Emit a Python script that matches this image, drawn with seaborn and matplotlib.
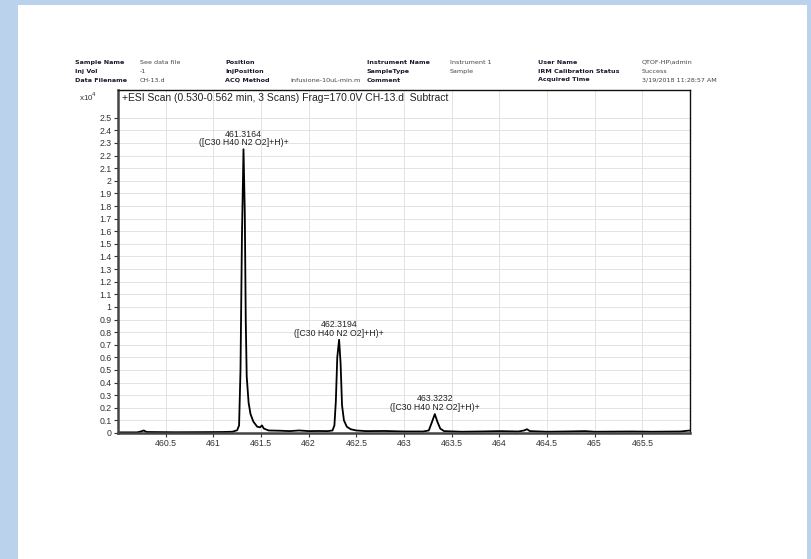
import matplotlib
matplotlib.use("Agg")
import matplotlib.pyplot as plt
from matplotlib.patches import Rectangle
import numpy as np
import seaborn as sns

# profile (m/z, counts x10^4)
mz = [460.00, 460.20, 460.24, 460.27, 460.30, 460.60, 460.90, 461.10, 461.20,
      461.25, 461.27, 461.285, 461.30, 461.3164, 461.33, 461.34, 461.35, 461.37,
      461.39, 461.42, 461.46, 461.49, 461.51, 461.53, 461.58, 461.70, 461.80,
      461.90, 462.00, 462.10, 462.20, 462.25, 462.27, 462.285, 462.30, 462.3194,
      462.335, 462.35, 462.37, 462.40, 462.44, 462.50, 462.60, 462.80, 463.00,
      463.20, 463.26, 463.29, 463.3232, 463.35, 463.38, 463.42, 463.60, 463.80,
      464.00, 464.20, 464.26, 464.29, 464.32, 464.50, 464.70, 464.90, 465.00,
      465.40, 465.60, 465.90, 466.00]
counts = [0.005, 0.005, 0.012, 0.02, 0.008, 0.006, 0.007, 0.008, 0.010,
          0.022, 0.06, 0.5, 1.55, 2.25, 1.75, 0.9, 0.45, 0.24,
          0.15, 0.09, 0.05, 0.045, 0.06, 0.035, 0.02, 0.018, 0.015,
          0.02, 0.015, 0.016, 0.015, 0.02, 0.06, 0.25, 0.6, 0.74,
          0.55, 0.22, 0.10, 0.05, 0.03, 0.02, 0.015, 0.016, 0.012,
          0.012, 0.02, 0.08, 0.15, 0.09, 0.035, 0.015, 0.01, 0.012,
          0.015, 0.012, 0.02, 0.03, 0.015, 0.01, 0.012, 0.015, 0.01,
          0.012, 0.01, 0.012, 0.02]

peak_mz = [461.3164, 462.3194, 463.3232]
peak_counts = [2.25, 0.74, 0.15]
peak_labels = ["461.3164", "462.3194", "463.3232"]
peak_formula = "([C30 H40 N2 O2]+H)+"

x_ticks = [460.5, 461, 461.5, 462, 462.5, 463, 463.5, 464, 464.5, 465, 465.5]
y_ticks = [round(0.1 * i, 1) for i in range(26)]

header_rows = [
    ["Sample Name", "See data file", "Position", "", "Instrument Name", "Instrument 1", "User Name", "QTOF-HP\\admin"],
    ["Inj Vol", "-1", "InjPosition", "", "SampleType", "Sample", "IRM Calibration Status", "Success"],
    ["Data Filename", "CH-13.d", "ACQ Method", "infusione-10uL-min.m", "Comment", "", "Acquired Time", "3/19/2018 11:28:57 AM"],
]
header_x = [75, 140, 225, 290, 367, 450, 538, 642]
header_y = [62, 71, 80]

title = "+ESI Scan (0.530-0.562 min, 3 Scans) Frag=170.0V CH-13.d  Subtract"

sns.set_style("whitegrid")
plt.rcParams['font.family'] = ['Liberation Sans', 'DejaVu Sans']

W, H = 812, 559
fig = plt.figure(figsize=(8.12, 5.59), dpi=100, facecolor='#bad2ec')
fig.add_artist(Rectangle((18 / W, 0), (807 - 18) / W, (H - 5) / H,
                         transform=fig.transFigure, facecolor='white',
                         edgecolor='none', zorder=0))

ax = fig.add_axes([118 / W, 1 - 433 / H, (690 - 118) / W, (433 - 90) / H])
ax.set_facecolor('white')
sns.lineplot(x=mz, y=counts, ax=ax, color='black', linewidth=1.3)

ax.set_xlim(460.0, 466.0)
ax.set_ylim(0, 2.72)
ax.set_xticks(x_ticks)
ax.set_xticklabels([f"{t:g}" for t in x_ticks])
ax.set_yticks(y_ticks)
ax.set_yticklabels([f"{t:g}" for t in y_ticks])
ax.tick_params(axis='both', labelsize=6.3, colors='#333333', length=3, width=0.8,
               pad=1.5, direction='out', left=True, bottom=True)
ax.grid(True, color='#dedede', linewidth=0.6)
ax.set_xlabel("")
ax.set_ylabel("")

for side in ['left', 'bottom']:
    ax.spines[side].set_color('#444444')
    ax.spines[side].set_linewidth(1.8)
for side in ['top', 'right']:
    ax.spines[side].set_color('#111111')
    ax.spines[side].set_linewidth(1.0)

ax.text(0.007, 0.992, title, transform=ax.transAxes, ha='left', va='top',
        fontsize=7.5, color='#222222')

for px, py, lab in zip(peak_mz, peak_counts, peak_labels):
    ax.annotate(f"{lab}\n{peak_formula}", xy=(px, py), xytext=(0, 1.5),
                textcoords='offset points', ha='center', va='bottom',
                fontsize=6.3, color='#222222', linespacing=0.95)

fig.text(88 / W, 1 - 97 / H, r"x10$^{4}$", ha='center', va='center',
         fontsize=5.8, color='#333333')

for r, row in enumerate(header_rows):
    for c, txt in enumerate(row):
        if not txt:
            continue
        bold = c % 2 == 0
        fig.text(header_x[c] / W, 1 - header_y[r] / H, txt, ha='left', va='center',
                 fontsize=4.6, fontweight='bold' if bold else 'normal',
                 color='#1a1a2e' if bold else '#444444',
                 family=['DejaVu Sans'])

fig.savefig("out.png", dpi=100, facecolor=fig.get_facecolor())
